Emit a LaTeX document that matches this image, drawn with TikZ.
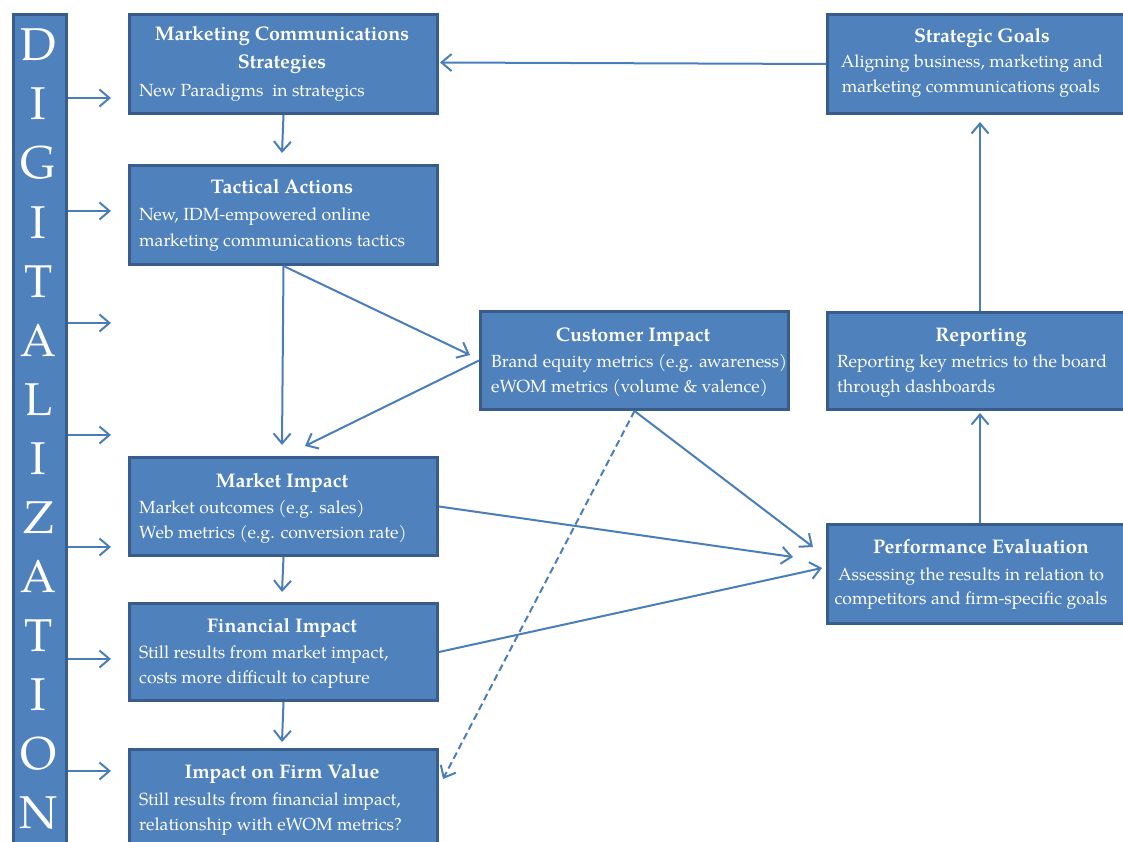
\documentclass[tikz,border=0pt]{standalone}
\usepackage{fontspec}
\setmainfont{texgyrepagella}[Extension=.otf, UprightFont=*-regular, BoldFont=*-bold, ItalicFont=*-italic, BoldItalicFont=*-bolditalic]
\usetikzlibrary{arrows.meta}
\definecolor{boxfill}{HTML}{4F81BD}
\definecolor{boxline}{HTML}{385D8A}
\definecolor{arrblue}{HTML}{4A7EBB}
\begin{document}
\begin{tikzpicture}[x=1pt,y=-1pt,
  box/.style={draw=boxline, line width=3pt, fill=boxfill, inner sep=0pt, anchor=north west},
  ttl/.style={text=white, font=\fontsize{19.7}{26}\selectfont\bfseries, anchor=base, inner sep=0pt},
  bodyl/.style={text=white, font=\fontsize{17.6}{26}\selectfont, anchor=base west, inner sep=0pt},
  bodyc/.style={text=white, font=\fontsize{17.6}{26}\selectfont, anchor=base, inner sep=0pt},
  letter/.style={text=white, font=\fontsize{46}{46}\selectfont, anchor=base, inner sep=0pt},
  arr/.style={draw=arrblue, line width=2pt, -{Straight Barb[length=10pt,width=17pt,line width=2pt]}},
  dsh/.style={arr, dash pattern=on 7pt off 4pt}]
\useasboundingbox (0,0) rectangle (1123,842);
\clip (0,0) rectangle (1123,842);
% bar
\node[box, minimum width=53pt, minimum height=850pt] (bar) at (12,13) {};
\foreach \ch [count=\i] in {D,I,G,I,T,A,L,I,Z,A,T,I,O,N}
  \node[letter] (L\i) at (38.5,{61+59*(\i-1)}) {\ch};
% boxes
\node[box, minimum width=308pt, minimum height=99pt] (mcs) at (128,13) {};
\node[box, minimum width=308pt, minimum height=99pt] (tact) at (128,164) {};
\node[box, minimum width=308pt, minimum height=98pt] (mkt) at (128,456) {};
\node[box, minimum width=308pt, minimum height=97pt] (fin) at (128,602) {};
\node[box, minimum width=308pt, minimum height=98pt] (firm) at (128,748) {};
\node[box, minimum width=308pt, minimum height=98pt] (cust) at (479,310) {};
\node[box, minimum width=320pt, minimum height=99pt] (goals) at (826,13) {};
\node[box, minimum width=320pt, minimum height=97pt] (rep) at (826,311) {};
\node[box, minimum width=320pt, minimum height=99pt] (perf) at (826,523) {};
% texts
\node[ttl] (mcs-t1) at (282,41) {Marketing Communications};
\node[ttl] (mcs-t2) at (282,69) {Strategies};
\node[bodyl] (mcs-b1) at (139,97) {New Paradigms~ in strategics};
\node[ttl] (tact-t) at (282,194) {Tactical Actions};
\node[bodyl] (tact-b1) at (139,221) {New, IDM-empowered online};
\node[bodyl] (tact-b2) at (139,247) {marketing communications tactics};
\node[ttl] (cust-t) at (633,341) {Customer Impact};
\node[bodyl] (cust-b1) at (491,367) {Brand equity metrics (e.g. awareness)};
\node[bodyl] (cust-b2) at (491,392) {eWOM metrics (volume \& valence)};
\node[ttl] (mkt-t) at (282,487) {Market Impact};
\node[bodyl] (mkt-b1) at (139,513) {Market outcomes (e.g. sales)};
\node[bodyl] (mkt-b2) at (139,538) {Web metrics (e.g. conversion rate)};
\node[ttl] (fin-t) at (282,632) {Financial Impact};
\node[bodyl] (fin-b1) at (139,658) {Still results from market impact,};
\node[bodyl] (fin-b2) at (139,683) {costs more difficult to capture};
\node[ttl] (firm-t) at (282,778) {Impact on Firm Value};
\node[bodyl] (firm-b1) at (139,805) {Still results from financial impact,};
\node[bodyl] (firm-b2) at (139,830) {relationship with eWOM metrics?};
\node[ttl] (goals-t) at (982,43) {Strategic Goals};
\node[bodyc] (goals-b1) at (972,68) {Aligning business, marketing and};
\node[bodyc] (goals-b2) at (971,93) {marketing communications goals};
\node[ttl] (rep-t) at (981,341) {Reporting};
\node[bodyl] (rep-b1) at (837,367) {Reporting key metrics to the board};
\node[bodyl] (rep-b2) at (837,392) {through dashboards};
\node[ttl] (perf-t) at (981,553) {Performance Evaluation};
\node[bodyc] (perf-b1) at (971,580) {Assessing the results in relation to};
\node[bodyc] (perf-b2) at (971,604) {competitors and firm-specific goals};
% bar arrows
\foreach \yy [count=\k] in {98,211,323,435,547,659,771}{
  \coordinate (d\k) at (111,\yy);
  \draw[arr] (bar.east |- d\k) -- (d\k);
}
% tips
\coordinate (tipTact) at (282,153);
\coordinate (tipMkt) at (282,445);
\coordinate (tipFin) at (282,592);
\coordinate (tipFirm) at (282,742);
\coordinate (tipCust) at (470,355);
\coordinate (tipMkt2) at (305,446);
\coordinate (tipPerf1) at (813,547);
\coordinate (tipFirm2) at (443,779);
\coordinate (tipPerf2) at (793,557);
\coordinate (tipPerf3) at (822,568);
\coordinate (tipMcs) at (440,62.5);
\coordinate (tipRep) at (980,413);
\coordinate (tipGoals) at (980,122);
\draw[arr] (mcs.south) -- (tipTact);
\draw[arr] (tact.south) -- (tipMkt);
\draw[arr] (mkt.south) -- (tipFin);
\draw[arr] (fin.south) -- (tipFirm);
\draw[arr] (tact.south) -- (tipCust);
\draw[arr] (cust.west) -- (tipMkt2);
\draw[arr] (cust.south) -- (tipPerf1);
\draw[dsh] (cust.south) -- (tipFirm2);
\draw[arr] (mkt.east) -- (tipPerf2);
\draw[arr] (fin.east) -- (tipPerf3);
\draw[arr] (goals.west) -- (tipMcs);
\draw[arr] (perf.north -| tipRep) -- (tipRep);
\draw[arr] (rep.north -| tipGoals) -- (tipGoals);
\end{tikzpicture}
\end{document}
